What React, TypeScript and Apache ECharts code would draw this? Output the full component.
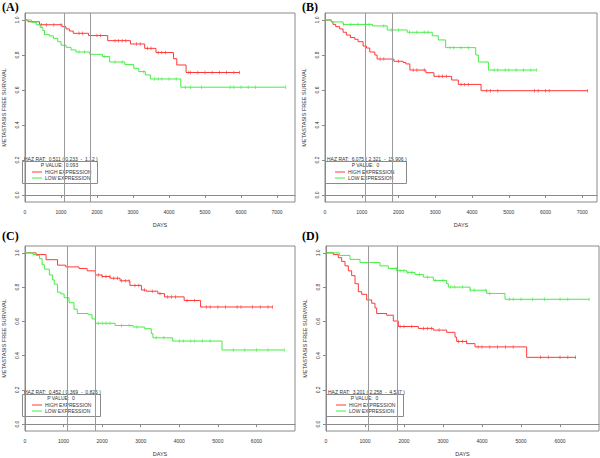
import React, { useEffect, useRef } from "react";
import * as echarts from "echarts";

type Pt = [number, number];

// Kaplan-Meier step curves: [days, survival]
const aHigh: Pt[] = [[0,1],[83,0.99],[404,0.973],[1029,0.962],[1139,0.949],[1231,0.937],[1341,0.924],[1764,0.911],[2297,0.882],[2930,0.863],[3325,0.838],[3638,0.814],[4124,0.779],[4216,0.743],[4474,0.70],[5962,0.70]];
const aLow: Pt[] = [[0,1],[180,0.987],[312,0.973],[423,0.958],[496,0.94],[542,0.916],[680,0.909],[790,0.895],[909,0.876],[1001,0.856],[1139,0.844],[1277,0.829],[1415,0.817],[1800,0.804],[2150,0.791],[2352,0.76],[2774,0.745],[3022,0.724],[3160,0.705],[3344,0.686],[3482,0.663],[4327,0.616],[7248,0.616]];
const bHigh: Pt[] = [[0,1],[173,0.99],[218,0.975],[291,0.962],[400,0.949],[491,0.93],[582,0.914],[691,0.9],[809,0.89],[900,0.876],[1036,0.851],[1127,0.84],[1218,0.817],[1355,0.8],[1418,0.777],[1873,0.764],[2127,0.757],[2200,0.749],[2309,0.714],[2745,0.699],[2964,0.678],[3445,0.657],[3627,0.632],[4245,0.596],[7145,0.596]];
const bLow: Pt[] = [[0,1],[173,0.989],[491,0.975],[1291,0.966],[1691,0.943],[2236,0.93],[2918,0.91],[3082,0.886],[3282,0.842],[4100,0.8],[4173,0.76],[4445,0.714],[5764,0.714]];
const cHigh: Pt[] = [[0,1],[290,0.99],[546,0.96],[844,0.928],[1057,0.918],[1398,0.909],[1611,0.895],[1824,0.871],[1995,0.862],[2208,0.852],[2464,0.837],[2720,0.81],[3018,0.783],[3146,0.776],[3444,0.762],[3615,0.743],[4126,0.722],[4552,0.684],[6428,0.684]];
const cLow: Pt[] = [[0,1],[205,0.99],[290,0.985],[375,0.966],[443,0.93],[503,0.905],[631,0.871],[716,0.842],[759,0.817],[844,0.77],[929,0.76],[1014,0.738],[1142,0.709],[1270,0.671],[1355,0.646],[1637,0.639],[1739,0.614],[1824,0.589],[2336,0.576],[2805,0.567],[3103,0.557],[3274,0.529],[3316,0.504],[3828,0.485],[5107,0.433],[6726,0.433]];
const dHigh: Pt[] = [[0,1],[188,0.99],[316,0.972],[402,0.95],[487,0.924],[573,0.895],[658,0.867],[744,0.82],[829,0.773],[915,0.758],[1043,0.725],[1171,0.706],[1256,0.678],[1299,0.646],[1556,0.636],[1726,0.602],[1855,0.57],[2368,0.559],[2752,0.549],[3094,0.536],[3308,0.508],[3350,0.483],[3607,0.47],[3821,0.451],[5145,0.39],[6410,0.39]];
const dLow: Pt[] = [[0,1],[342,0.985],[615,0.962],[872,0.943],[1385,0.924],[1598,0.909],[1812,0.896],[2068,0.886],[2282,0.873],[2496,0.858],[2752,0.839],[3094,0.82],[3137,0.8],[3692,0.782],[4120,0.763],[4590,0.729],[6752,0.729]];

// censored observation days
const aHighCens = [450,600,800,1000,1500,1600,2000,2100,2500,2600,2700,2800,3100,3200,3400,3500,3700,3800,3900,4550,4600,4800,5000,5200,5400,5600,5800,5960];
const aLowCens = [1500,1650,2200,2500,2700,3300,3600,3700,3800,4000,4200,4450,4600,4900,5700,5800,6000,6200,6400,7240];
const bHighCens = [1500,1600,2000,2400,2500,2700,3100,3200,3300,3700,3800,3900,4400,4500,4700,5700,5800,6000,6100,7140];
const bLowCens = [500,700,900,1200,1600,1800,2000,2300,2500,2700,2800,3400,3500,3700,3900,4600,4700,4900,5000,5200,5400,5600,5760];
const cHighCens = [1900,2000,2100,2200,2300,2400,2500,2600,2700,2850,2950,3100,3300,3500,3700,3800,3900,4200,4400,4700,4800,5000,5200,5500,5600,5900,6100,6300,6420];
const cLowCens = [1900,2000,2100,2200,2500,2700,2900,3400,3600,4000,4100,4300,4400,4600,4800,5400,5700,6000,6300,6720];
const dHighCens = [1900,2000,2200,2500,2600,2700,2900,3400,3500,3600,3900,4000,4200,4400,4600,4800,5500,5700,6000,6200,6400];
const dLowCens = [1800,1900,2000,2100,2200,2400,2600,2800,3000,3200,3300,3500,3700,3800,4100,4200,4700,4800,5000,5300,5600,6000,6200,6745];

const panelLabels = ["(A)", "(B)", "(C)", "(D)"];
const hazText = [
  "HAZ RAT:  0.511 ( 0.233  -  1.12 )",
  "HAZ RAT:  6.075 ( 2.321  -  15.906 )",
  "HAZ RAT:  0.452 ( 0.369  -  0.826 )",
  "HAZ RAT:  3.201 ( 2.258  -  4.537 )",
];
const pText = ["P VALUE:  0.093", "P VALUE:  0", "P VALUE:  0", "P VALUE:  0"];
const legendNames = ["HIGH EXPRESSION", "LOW EXPRESSION"];
const yTicks = [0, 0.2, 0.4, 0.6, 0.8, 1.0];
const xTicksA = [0, 1000, 2000, 3000, 4000, 5000, 6000, 7000];
const xTicksC = [0, 1000, 2000, 3000, 4000, 5000, 6000];
const refDays = [1095, 1825];

const RED = "#ff3838";
const GREEN = "#44ee44";
const FONT = "'Liberation Sans', Arial, Helvetica, sans-serif";

const panels = [
  { high: aHigh, low: aLow, hc: aHighCens, lc: aLowCens, grid: { left: 22, top: 13, width: 273, height: 189 }, xMax: 7500, xt: xTicksA, boxW: 75, ox: 0, oy: 0 },
  { high: bHigh, low: bLow, hc: bHighCens, lc: bLowCens, grid: { left: 325, top: 13, width: 272, height: 189 }, xMax: 7400, xt: xTicksA, boxW: 81, ox: 300, oy: 0 },
  { high: cHigh, low: cLow, hc: cHighCens, lc: cLowCens, grid: { left: 22, top: 246, width: 273, height: 189 }, xMax: 7000, xt: xTicksC, boxW: 78, ox: 0, oy: 229 },
  { high: dHigh, low: dLow, hc: dHighCens, lc: dLowCens, grid: { left: 326, top: 246, width: 273, height: 189 }, xMax: 7000, xt: xTicksC, boxW: 77, ox: 300, oy: 229 },
];

function stepAt(curve: Pt[], day: number): number {
  let v = curve[0][1];
  for (const [d, s] of curve) {
    if (d <= day) v = s;
    else break;
  }
  return v;
}

export default function App() {
  const ref = useRef<HTMLDivElement>(null);
  useEffect(() => {
    if (!ref.current) return;
    const chart = echarts.init(ref.current, null, { renderer: "svg" });
    const grids: any[] = [];
    const xAxes: any[] = [];
    const yAxes: any[] = [];
    const series: any[] = [];
    const graphics: any[] = [];
    const axisColor = "#8a8a8a";
    const textColor = "#333";

    panels.forEach((p, i) => {
      grids.push({ ...p.grid, show: true, borderColor: axisColor, borderWidth: 1, containLabel: false });
      xAxes.push({
        gridIndex: i, type: "value", min: 0, max: p.xMax,
        name: "DAYS", nameLocation: "middle", nameGap: 20,
        nameTextStyle: { fontSize: 5.5, color: textColor, fontFamily: FONT },
        axisLine: { show: true, lineStyle: { color: axisColor } },
        axisTick: { show: true, length: 3, customValues: p.xt, lineStyle: { color: axisColor } },
        axisLabel: { customValues: p.xt, fontSize: 5, color: textColor, fontFamily: FONT, margin: 7, formatter: (v: number) => String(v) },
        splitLine: { show: false },
      });
      yAxes.push({
        gridIndex: i, type: "value", min: -0.04, max: 1.04,
        name: "METASTASIS FREE SURVIVAL", nameLocation: "middle", nameGap: 18,
        nameTextStyle: { fontSize: 5.5, color: textColor, fontFamily: FONT },
        axisLine: { show: true, lineStyle: { color: axisColor } },
        axisTick: { show: true, length: 3, customValues: yTicks, lineStyle: { color: axisColor } },
        axisLabel: { customValues: yTicks, rotate: 90, fontSize: 5, color: textColor, fontFamily: FONT, margin: 6, formatter: (v: number) => v.toFixed(1) },
        splitLine: { show: false },
      });
      const curves: [Pt[], number[], string, string][] = [
        [p.high, p.hc, RED, legendNames[0]],
        [p.low, p.lc, GREEN, legendNames[1]],
      ];
      curves.forEach(([curve, cens, color, name], k) => {
        series.push({
          type: "line", name, xAxisIndex: i, yAxisIndex: i, data: curve, step: "end",
          showSymbol: false, symbol: "none", lineStyle: { color, width: 1 }, silent: true,
          markLine: k === 0 ? {
            silent: true, symbol: "none", label: { show: false },
            lineStyle: { color: "#9a9a9a", width: 1, type: "solid" },
            data: refDays.map((d) => ({ xAxis: d })),
          } : undefined,
        });
        series.push({
          type: "scatter", xAxisIndex: i, yAxisIndex: i, silent: true,
          data: cens.map((d) => [d, stepAt(curve, d)]),
          symbol: "rect", symbolSize: [0.8, 3.5], itemStyle: { color },
        });
      });

      // panel label
      graphics.push({ type: "text", left: p.ox + 2, top: p.oy + 1, style: { text: panelLabels[i], font: "bold 12px 'Liberation Serif', 'Times New Roman', serif", fill: "#000" } });
      // legend box
      const bx = p.grid.left;
      const by = p.grid.top + 148;
      graphics.push({ type: "rect", shape: { x: bx + 0.5, y: by + 0.5, width: p.boxW, height: 22 }, style: { fill: "none", stroke: "#8a8a8a", lineWidth: 1 } });
      graphics.push({ type: "text", x: bx + 2, y: by - 2, style: { text: hazText[i], fontSize: 5, fontFamily: FONT, fill: textColor, verticalAlign: "middle", align: "left" } });
      graphics.push({ type: "text", x: bx + p.boxW / 2, y: by + 3.5, style: { text: pText[i], fontSize: 5, fontFamily: FONT, fill: textColor, verticalAlign: "middle", align: "center" } });
      [RED, GREEN].forEach((c, k) => {
        const ly = by + 11 + k * 6;
        graphics.push({ type: "line", shape: { x1: bx + 10, y1: ly, x2: bx + 20, y2: ly }, style: { stroke: c, lineWidth: 1 } });
        graphics.push({ type: "text", x: bx + 23, y: ly, style: { text: legendNames[k], fontSize: 5, fontFamily: FONT, fill: textColor, verticalAlign: "middle", align: "left" } });
      });
    });

    chart.setOption({
      animation: false,
      backgroundColor: "#fff",
      grid: grids,
      xAxis: xAxes,
      yAxis: yAxes,
      series,
      graphic: graphics,
    });
    return () => chart.dispose();
  }, []);
  return <div ref={ref} style={{ position: "fixed", left: 0, top: 0, width: 600, height: 458 }} />;
}
